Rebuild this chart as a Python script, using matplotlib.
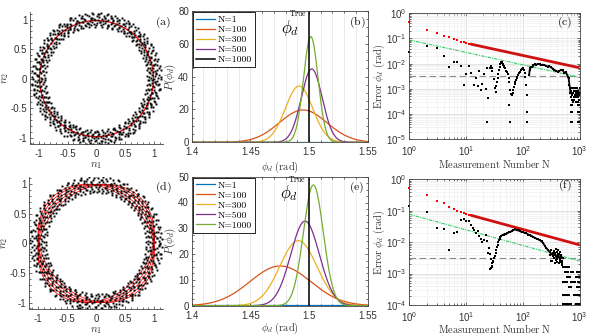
import numpy as np
import matplotlib.pyplot as plt
from matplotlib.patches import Ellipse
from matplotlib.ticker import MultipleLocator, LogLocator, NullFormatter

plt.rcParams['font.family'] = ['Liberation Sans', 'DejaVu Sans']
plt.rcParams['mathtext.fontset'] = 'cm'
plt.rcParams['axes.unicode_minus'] = False

# ---------------- data ----------------
# (a), (d): measured points around the unit ring, one digit per point
# (digit -> radial offset step from r = 1, points go round the ring in order)
ring_a = ("4729150836624195730842917556308142967305518429063371845920"
          "6381940275518364927014582936657108342295736184403927561188"
          "2957316648023915774638201956437781120594836627405193368842"
          "7140528936651472803395162847740925136685041739928156043376"
          "5386214709953821467305589162734498026615387740291685532407"
          "1694378025661943870254418936675203318947562204937816655903"
          "8205736419927563048816345729901468573326081954732261840579"
          "3571924608835179264073318562947705132846695021783359406621"
          "9426083157714026598341065837229461785503924617086432951174"
          "6053182947705318624496137802559348671102837594466120853798"
          "2748361059927481036653928147705263389104856721945038867214"
          "5910274836615093827442560931874476025138995402716835560139")
ring_d = ("8352071946683520194576302841983365704219586430127798354061"
          "1469825307714682953380617249956031427880512693574402186735"
          "7025913648862017354996013724586651920473385102697741638250"
          "3948170526639104857227360948815537204691682573109946823507"
          "6591243078825917406433058129974620583116749205883137460925"
          "2817364059914726385506938471226450387919032561847635928014"
          "9374058261137490265578301946682015739744816203395018726543"
          "4603918275526483071941752630889175042633098526147729360851"
          "1285749360078126593342615809774958102366259837401185934270"
          "7936201548834069721556079182433862975011480629357764218396"
          "5142093867761428305994381026758531694720237186045591827603"
          "3869517024469351082773602954118247905366891732054620947718")
# fitted ellipses: (diameter along +45 deg, diameter along -45 deg)
fit_a = [(1.97, 1.97)]
fit_d = [(2.17, 1.81), (2.09, 1.91), (2.0, 2.0), (1.91, 2.09), (1.81, 2.17)]

# (b), (e): posterior of phi_d for growing N (centre, peak height, width)
n_labels = ['N=1', 'N=100', 'N=300', 'N=500', 'N=1000']
n_colors = ['#0072BD', '#D95319', '#EDB120', '#7E2F8E', '#77AC30']
mu_b = [1.47, 1.495, 1.4915, 1.5023, 1.5015]
peak_b = [0.33, 19.7, 34.3, 44.7, 64.4]
sig_b = [1.2, 0.0203, 0.0116, 0.0089, 0.0062]
mu_e = [1.47, 1.4755, 1.4909, 1.4966, 1.5037]
peak_e = [0.33, 15.4, 25.2, 32.8, 46.8]
sig_e = [1.2, 0.0259, 0.0158, 0.0122, 0.0085]
phi_true = 1.5

# (c), (f): error vs measurement number
crb_n = [1, 2, 3, 4, 5, 6, 7, 8, 9, 10, 11, 12]
crb_c = [0.47, 0.22, 0.166, 0.126, 0.11, 0.093, 0.085, 0.075, 0.071, 0.066, 0.063, 0.060]
crb_f = [0.54, 0.31, 0.20, 0.18, 0.134, 0.11, 0.098, 0.091, 0.083, 0.079, 0.075, 0.072]
crb_line_n = [12, 1000]
crb_line_c = [0.060, 0.0069]
crb_line_f = [0.072, 0.0082]
sql_n = [1, 1000]
sql_c = [0.087, 0.0029]
sql_f = [0.077, 0.0025]
floor_c = 0.0034
floor_f = 0.0031

early_c_n = [1, 2, 3, 4, 5, 6, 7, 8, 9, 10, 11, 12, 14, 15, 16, 17, 18, 19, 21, 22,
             23, 23, 24, 26, 27, 28, 29, 31, 32, 33]
early_c_e = [0.029, 0.052, 0.043, 0.021, 0.0072, 0.0117, 0.0117, 0.0078, 0.00144, 0.0040,
             0.0081, 0.0042, 0.00144, 0.0028, 0.0013, 0.0051, 0.00093, 0.0015, 0.0038, 0.00096,
             0.000047, 0.0066, 0.00043, 0.0066, 0.0084, 0.0066, 0.0053, 0.0024, 0.00105, 0.00078]
chain_c_n = [34, 35, 36, 37, 38, 39, 40, 41, 42, 43, 44, 45, 46, 47, 48, 50, 52, 54, 56, 58, 60,
             62, 64, 66, 68, 70, 72, 74, 76, 78, 80, 83, 86, 89, 92, 95, 98,
             102, 105, 108, 111, 114, 117]
chain_c_e = [0.0013, 0.0019, 0.0028, 0.004, 0.0055, 0.0075, 0.0095, 0.011, 0.012, 0.0112,
             0.0098, 0.0088, 0.0082, 0.0076, 0.0065, 0.0052, 0.0045, 0.0038, 0.0026, 0.0019, 0.0009,
             0.0006, 0.00055, 0.00067, 0.0009, 0.0012, 0.0015, 0.0019, 0.0022, 0.0026, 0.003,
             0.0036, 0.0042, 0.0048, 0.0054, 0.006, 0.0064,
             0.0066, 0.0058, 0.0042, 0.003, 0.0014, 0.00057]
outl_c_n = [57, 59, 117, 118]
outl_c_e = [0.00023, 0.00005, 0.000125, 0.00005]
band_c_n = [129, 132, 136, 141, 147, 153, 162, 172, 185, 200, 212, 225, 240, 258, 276, 295,
            315, 338, 362, 388, 414, 440, 474, 505, 543, 580, 622, 645, 665, 680, 693]
band_c_e = [0.0035, 0.0056, 0.0068, 0.0076, 0.0072, 0.0085, 0.0095, 0.0092, 0.0098, 0.0094,
            0.0089, 0.0092, 0.0088, 0.0082, 0.0076, 0.0079, 0.0071, 0.0064, 0.0056, 0.0052,
            0.0048, 0.0052, 0.0056, 0.0055, 0.0042, 0.0045, 0.003, 0.0026, 0.0014, 0.0011, 0.00067]
tail_c_rows = [1.05e-3, 8.5e-4, 7e-4, 5.6e-4, 4.6e-4, 3.7e-4, 3.1e-4, 2.2e-4, 1.2e-4, 5e-5]
tail_c_row_n = [[700, 760, 840, 920, 1000], [720, 800, 870, 960], [700, 780, 850, 930, 1000],
                [740, 820, 900, 980], [700, 790, 880, 950], [730, 810, 990], [760, 860, 940],
                [700, 730, 960, 990], [700, 730, 930, 960, 990], [700, 730, 930, 990]]

early_f_n = [1, 2, 3, 4, 5, 6, 7, 8, 9, 10, 11, 12, 13, 14, 15, 16, 17, 18, 19, 21,
             22, 23, 24, 25, 26, 27, 29, 30]
early_f_e = [0.145, 0.091, 0.029, 0.026, 0.0057, 0.019, 0.021, 0.052, 0.056, 0.048,
             0.048, 0.036, 0.028, 0.025, 0.0195, 0.022, 0.016, 0.013, 0.010, 0.0114,
             0.0165, 0.011, 0.0045, 0.0065, 0.0043, 0.003, 0.0016, 0.0023]
chain_f_n = [26, 27, 28, 29, 30, 31, 32, 33, 34, 35, 36, 37, 38, 39]
chain_f_e = [0.00136, 0.0015, 0.0018, 0.0022, 0.0026, 0.0031, 0.0037, 0.0045, 0.0055,
             0.0068, 0.0082, 0.0098, 0.0115, 0.013]
band_f_n = [40, 42, 44, 46, 48, 50, 53, 56, 60, 64, 68, 73, 78, 84, 90, 95, 101, 108, 116, 125,
            133, 142, 152, 163, 175, 188, 200, 215, 230, 245, 260, 281, 300, 322, 345, 370,
            395, 420, 450, 480, 510]
band_f_e = [0.0145, 0.016, 0.017, 0.0175, 0.0185, 0.0178, 0.019, 0.0205, 0.021, 0.0225,
            0.024, 0.0255, 0.024, 0.0235, 0.022, 0.021, 0.021, 0.0195, 0.019, 0.0175,
            0.0165, 0.016, 0.0145, 0.014, 0.0128, 0.0122, 0.0114, 0.0105, 0.0092, 0.0075,
            0.0065, 0.0055, 0.0048, 0.0042, 0.0036, 0.0045, 0.003, 0.0042, 0.0028, 0.0034, 0.0031]
blob_f_n = [300, 310, 320, 330, 340, 350, 358, 365, 372, 380, 390, 400, 408, 415, 422, 430,
            438, 445, 452, 460, 468, 475, 482, 490, 500]
blob_f_e = [0.0038, 0.0058, 0.0026, 0.0025, 0.0046, 0.0052, 0.0031, 0.0022, 0.0044, 0.006,
            0.0027, 0.0024, 0.0049, 0.0055, 0.0033, 0.0021, 0.0041, 0.0048, 0.0029, 0.0023,
            0.0036, 0.0038, 0.0026, 0.0022, 0.0019]
tail_f_rows = [1.6e-3, 1.1e-3, 7.8e-4, 5.4e-4, 3.7e-4, 2.1e-4, 1.1e-4]
tail_f_row_n = [[520, 545, 575, 610, 650],
                [560, 590, 620, 700, 740, 780, 900, 950, 1000],
                [600, 640, 680, 850, 900, 950, 1000],
                [520, 560, 600, 700, 760, 820, 950, 1000],
                [640, 680, 720, 900, 950, 1000],
                [520, 560, 600, 640, 800, 850, 900, 950, 1000],
                [520, 560, 600, 640, 680, 720, 850, 900, 950, 1000]]

# ---------------- figure ----------------
W, H = 601, 335
fig = plt.figure(figsize=(W / 100, H / 100), dpi=100)
TXT = '#333333'


def add_ax(x0, y0, x1, y1):
    # pixel box (top-left origin) -> figure fraction
    return fig.add_axes([x0 / W, 1 - y1 / H, (x1 - x0) / W, (y1 - y0) / H])


def style(ax, box=True):
    ax.tick_params(which='both', direction='in', labelsize=7, colors=TXT,
                   width=0.5, top=box, right=box)
    ax.tick_params(which='major', length=2.5)
    ax.tick_params(axis='x', which='major', pad=3.5)
    ax.tick_params(axis='y', which='major', pad=2)
    ax.tick_params(which='minor', length=1.4)
    for s in ax.spines.values():
        s.set_linewidth(0.6)
        s.set_color('#444444')
    if not box:
        ax.spines['top'].set_visible(False)
        ax.spines['right'].set_visible(False)


def panel_label(ax, x, y, s):
    ax.text(x, y, r'$\mathrm{(%s)}$' % s, transform=ax.transAxes, ha='center',
            va='center', fontsize=8.5, color='#111111')


def ring_panel(ax, digits, step, fits, lw, lab):
    d = np.array([int(c) for c in digits])
    th = np.linspace(0, 2 * np.pi, len(d), endpoint=False)
    r = 1 + (d - 4.5) * step
    ax.plot(r * np.cos(th), r * np.sin(th), 's', color='k', ms=1.4, mew=0)
    for w, h in fits:
        ax.add_patch(Ellipse((0, 0), w, h, angle=45, fill=False, ec='red', lw=lw))
    ax.set_xlim(-1.15, 1.15)
    ax.set_ylim(-1.11, 1.13)
    ax.set_xticks([-1, -0.5, 0, 0.5, 1])
    ax.set_yticks([-1, -0.5, 0, 0.5, 1])
    ax.set_xticklabels(['-1', '-0.5', '0', '0.5', '1'])
    ax.set_yticklabels(['-1', '-0.5', '0', '0.5', '1'])
    ax.xaxis.set_minor_locator(MultipleLocator(0.1))
    ax.yaxis.set_minor_locator(MultipleLocator(0.1))
    style(ax, box=False)
    ax.set_xlabel(r'$n_1$', fontsize=8, color=TXT)
    ax.set_ylabel(r'$n_2$', fontsize=8, color=TXT)
    ax.xaxis.set_label_coords(0.5, -0.12)
    ax.yaxis.set_label_coords(-0.145, 0.5)
    panel_label(ax, 1.0, 0.92, lab)


def prob_panel(ax, mus, peaks, sigs, ymax, ystep, black_last, ann, lab, xl_y):
    x = np.linspace(1.4, 1.55, 900)
    lines = []
    for mu, pk, sg, c in zip(mus, peaks, sigs, n_colors):
        l, = ax.plot(x, pk * np.exp(-0.5 * ((x - mu) / sg) ** 2), color=c, lw=0.9)
        lines.append(l)
    vl = ax.axvline(phi_true, color='k', lw=1.1)
    handles = lines[:4] + [vl] if black_last else lines
    leg = ax.legend(handles, n_labels, loc='upper left', frameon=True,
                    prop={'family': 'cmr10', 'size': 7},
                    fancybox=False, edgecolor='k', framealpha=1, borderaxespad=0.15,
                    borderpad=0.3, labelspacing=0.12, handlelength=1.9,
                    handletextpad=0.3)
    leg.get_frame().set_linewidth(0.6)
    # phi_d^True marker next to the true value
    ax.text(ann[0], ann[1], r'$\phi_d$', ha='right', va='baseline', fontsize=12)
    ax.text(ann[2], ann[3], r'$\mathrm{True}$', ha='center', va='center', fontsize=5.5)
    ax.set_xlim(1.4, 1.55)
    ax.set_ylim(0, ymax)
    ax.set_xticks([1.4, 1.45, 1.5, 1.55])
    ax.set_xticklabels(['1.4', '1.45', '1.5', '1.55'])
    ax.xaxis.set_minor_locator(MultipleLocator(0.01))
    ax.yaxis.set_major_locator(MultipleLocator(ystep))
    ax.yaxis.set_minor_locator(MultipleLocator(ystep / 4))
    ax.grid(axis='x', which='both', color='#e2e2e2', lw=0.5)
    ax.set_axisbelow(True)
    style(ax)
    ax.set_xlabel(r'$\phi_d\ \mathrm{(rad)}$', fontsize=7.5, color=TXT)
    ax.set_ylabel(r'$P(\phi_d)$', fontsize=8, color=TXT)
    ax.xaxis.set_label_coords(0.5, xl_y)
    ax.yaxis.set_label_coords(-0.08, 0.5)
    panel_label(ax, 0.94, 0.915, lab)


def err_panel(ax, crb, crb_line, sql, floor, ylow, lab, ly, xl_y):
    ax.set_xscale('log')
    ax.set_yscale('log')
    ax.grid(which='major', color='#d8d8d8', lw=0.5)
    ax.grid(which='minor', color='#ececec', lw=0.4)
    ax.set_axisbelow(True)
    ax.axhline(floor, color='#8c8c8c', lw=0.8, dashes=(6, 3))
    ax.plot(sql_n, sql, color='#33cc66', lw=0.8, dashes=(3, 1, 1, 1))
    ax.plot(crb_n, crb, 's', color='red', ms=1.7, mew=0, clip_on=False)
    ax.plot(crb_line_n, crb_line, color='#d01010', lw=2.0, solid_capstyle='butt')
    ax.set_xlim(1, 1000)
    ax.set_ylim(ylow, 1)
    ax.xaxis.set_major_locator(LogLocator(base=10, numticks=10))
    ax.yaxis.set_major_locator(LogLocator(base=10, numticks=10))
    ax.xaxis.set_minor_locator(LogLocator(base=10, subs=np.arange(2, 10), numticks=10))
    ax.yaxis.set_minor_locator(LogLocator(base=10, subs=np.arange(2, 10), numticks=10))
    ax.xaxis.set_minor_formatter(NullFormatter())
    ax.yaxis.set_minor_formatter(NullFormatter())
    style(ax)
    ax.set_xlabel(r'$\mathrm{Measurement\ Number\ N}$', fontsize=7.5, color=TXT)
    ax.set_ylabel(r'$\mathrm{Error}\ \phi_d\ \mathrm{(rad)}$', fontsize=7.5, color=TXT)
    ax.xaxis.set_label_coords(0.5, xl_y)
    ax.yaxis.set_label_coords(-0.135, 0.5)
    panel_label(ax, 0.915, ly, lab)


def dots(ax, n, e):
    ax.plot(n, e, 's', color='k', ms=1.6, mew=0, clip_on=False)


# top row
ax_a = add_ax(30, 12, 163, 144)
ring_panel(ax_a, ring_a, 0.026, fit_a, 0.9, 'a')
ax_b = add_ax(191.7, 11, 367.7, 142.3)
prob_panel(ax_b, mu_b, peak_b, sig_b, 80, 20, True, (1.4915, 66.5, 1.4905, 79), 'b', -0.13)
ax_c = add_ax(409.5, 13.3, 579.5, 139.3)
err_panel(ax_c, crb_c, crb_line_c, sql_c, floor_c, 1e-5, 'c', 0.93, -0.145)
dots(ax_c, early_c_n, early_c_e)
dots(ax_c, chain_c_n, chain_c_e)
dots(ax_c, outl_c_n, outl_c_e)
ax_c.plot(band_c_n, band_c_e, '-s', color='k', lw=1.3, ms=1.5, mew=0)
for row, ns in zip(tail_c_rows, tail_c_row_n):
    dots(ax_c, ns, [row] * len(ns))

# bottom row
ax_d = add_ax(29.3, 176.7, 163, 309)
ring_panel(ax_d, ring_d, 0.03, fit_d, 0.55, 'd')
ax_e = add_ax(191.7, 176.7, 367.7, 305.7)
prob_panel(ax_e, mu_e, peak_e, sig_e, 50, 10, False, (1.4905, 41.8, 1.4895, 49.3), 'e', -0.12)
ax_f = add_ax(409.5, 179.3, 579.5, 305)
err_panel(ax_f, crb_f, crb_line_f, sql_f, floor_f, 1e-4, 'f', 0.95, -0.14)
dots(ax_f, early_f_n, early_f_e)
dots(ax_f, chain_f_n, chain_f_e)
ax_f.plot(band_f_n, band_f_e, '-s', color='k', lw=1.3, ms=1.5, mew=0)
dots(ax_f, blob_f_n, blob_f_e)
for row, ns in zip(tail_f_rows, tail_f_row_n):
    dots(ax_f, ns, [row] * len(ns))

fig.savefig('out.png', dpi=100)
